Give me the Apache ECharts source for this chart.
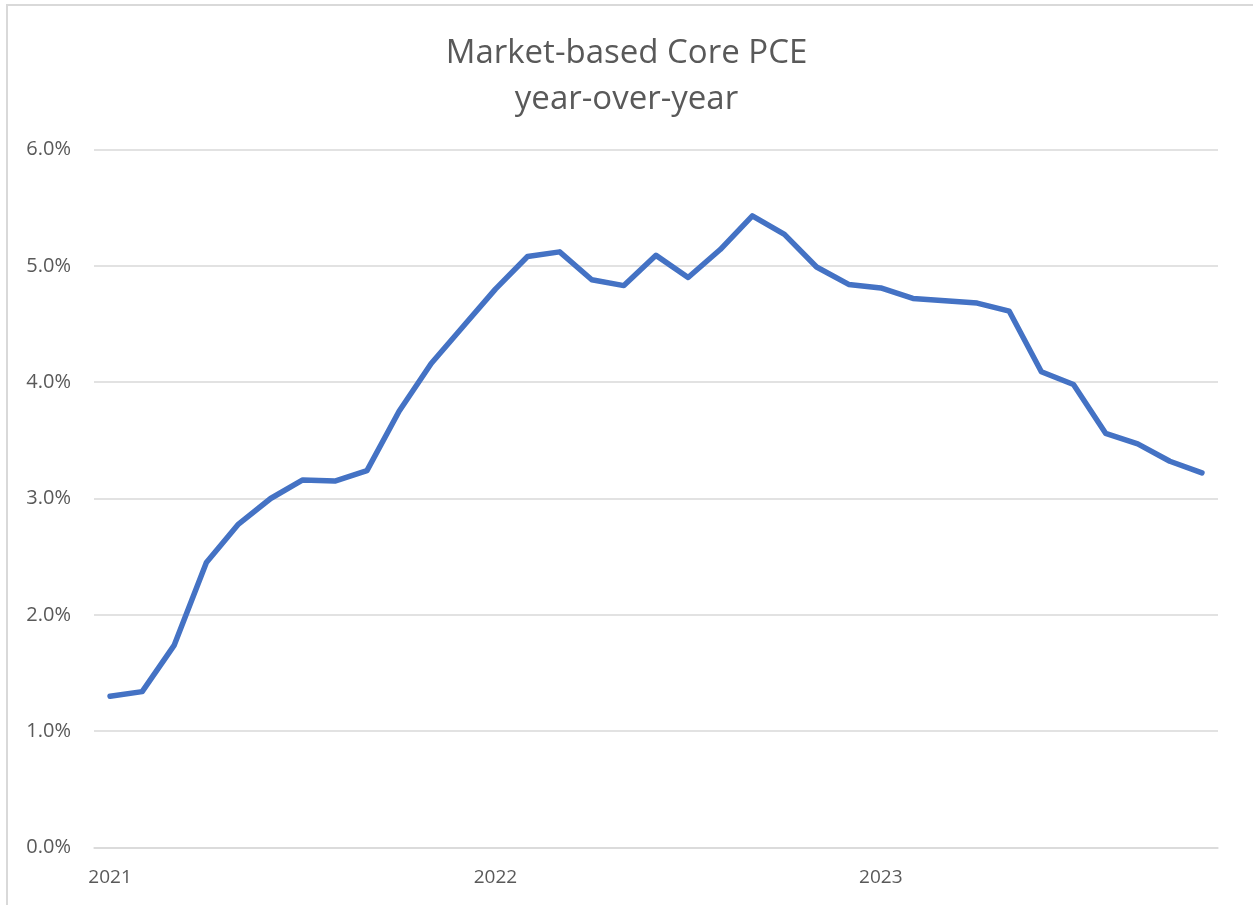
<!DOCTYPE html>
<html>
<head>
<meta charset="utf-8">
<script src="https://cdn.jsdelivr.net/npm/echarts@6/dist/echarts.min.js"></script>
<style>
  html, body { margin: 0; padding: 0; background: #fff; }
  #frame { position: absolute; left: 6px; top: 4px; width: 1253px; height: 910px;
           border-top: 2px solid #d9d9d9; border-left: 2px solid #d9d9d9; }
  #chart { position: absolute; left: 0; top: 0; width: 1253px; height: 905px; }
</style>
</head>
<body>
<div id="frame"></div>
<div id="chart"></div>
<script>
// monthly, Jan 2021 .. Nov 2023
const months = [
  '2021-01','2021-02','2021-03','2021-04','2021-05','2021-06','2021-07','2021-08','2021-09','2021-10','2021-11','2021-12',
  '2022-01','2022-02','2022-03','2022-04','2022-05','2022-06','2022-07','2022-08','2022-09','2022-10','2022-11','2022-12',
  '2023-01','2023-02','2023-03','2023-04','2023-05','2023-06','2023-07','2023-08','2023-09','2023-10','2023-11'
];
// year-over-year, percent
const corePce = [
  1.30, 1.34, 1.74, 2.45, 2.78, 3.00, 3.16, 3.15, 3.24, 3.75, 4.16, 4.48,
  4.80, 5.08, 5.12, 4.88, 4.83, 5.09, 4.90, 5.14, 5.43, 5.27, 4.99, 4.84,
  4.81, 4.72, 4.70, 4.68, 4.61, 4.09, 3.98, 3.56, 3.47, 3.32, 3.22
];
const yTicks = [0, 1, 2, 3, 4, 5, 6];

const textColor = '#595959';
const gridColor = '#d9d9d9';
const font = '"Open Sans", "Noto Sans", sans-serif';

const chart = echarts.init(document.getElementById('chart'));
chart.setOption({
  animation: false,
  title: {
    text: 'Market-based Core PCE\nyear-over-year',
    left: 'center',
    top: 26,
    textStyle: { color: textColor, fontSize: 33, fontWeight: 'normal', fontFamily: font, lineHeight: 46 }
  },
  grid: { left: 94, right: 35, top: 149.5, bottom: 57.5 },
  xAxis: {
    type: 'category',
    data: months,
    boundaryGap: true,
    axisLine: { show: true, lineStyle: { color: gridColor, width: 1.5 } },
    axisTick: { show: false },
    axisLabel: {
      interval: 11,
      color: textColor,
      fontSize: 19,
      fontFamily: font,
      margin: 21,
      formatter: v => v.slice(0, 4)
    }
  },
  yAxis: {
    type: 'value',
    min: yTicks[0],
    max: yTicks[yTicks.length - 1],
    interval: 1,
    axisLine: { show: false },
    axisTick: { show: false },
    splitLine: { lineStyle: { color: gridColor, width: 1.5 } },
    axisLabel: {
      color: textColor,
      fontSize: 20,
      fontFamily: font,
      margin: 23,
      formatter: v => v.toFixed(1) + '%'
    }
  },
  series: [{
    type: 'line',
    data: corePce,
    showSymbol: false,
    symbol: 'none',
    lineStyle: { color: '#4472C4', width: 5.5, cap: 'round', join: 'round' }
  }]
});
</script>
</body>
</html>
